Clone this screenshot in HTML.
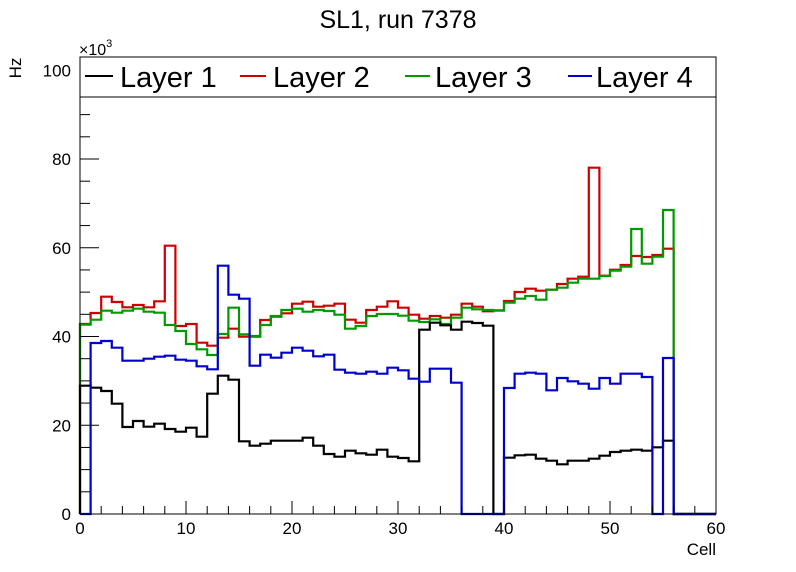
<!DOCTYPE html>
<html><head><style>body{margin:0;background:#fff}svg{display:block}</style></head><body>
<svg width="796" height="572" xmlns="http://www.w3.org/2000/svg" font-family="Liberation Sans, sans-serif">
<rect width="796" height="572" fill="#fff"/>
<text x="398" y="28" font-size="25" text-anchor="middle">SL1, run 7378</text>
<g id="plot" fill="none" stroke-width="2.2"></g>
<rect x="80" y="57" width="636" height="457" fill="none" stroke="#000" stroke-width="1"/>
<g id="ticks" stroke="#000" stroke-width="1"></g>
<g font-size="17" text-anchor="end" id="yl"></g>
<g font-size="17" text-anchor="middle" id="xl"></g>
<text x="716" y="555" font-size="17" text-anchor="end">Cell</text>
<text transform="translate(21,68) rotate(-90)" font-size="17" text-anchor="middle">Hz</text>
<text x="79" y="55" font-size="16">×10<tspan font-size="11" dy="-8">3</tspan></text>
<rect x="80" y="57" width="636" height="40" fill="#fff" stroke="#000" stroke-width="1"/>
<g font-size="29">
<line x1="85" x2="113" y1="76" y2="76" stroke="#000" stroke-width="2"/><text x="120" y="87">Layer 1</text>
<line x1="240" x2="266" y1="76" y2="76" stroke="#c00" stroke-width="2"/><text x="273" y="87">Layer 2</text>
<line x1="405" x2="430" y1="76" y2="76" stroke="#090" stroke-width="2"/><text x="435" y="87">Layer 3</text>
<line x1="568" x2="592" y1="76" y2="76" stroke="#00c" stroke-width="2"/><text x="596" y="87">Layer 4</text>
</g>
<script>
var B=[385.7,387.7,391,403.7,427,421,426.7,423.7,429,431.7,427.7,436.7,393.7,375.7,379.7,441.3,445.7,443.7,440.7,440.7,440.7,437.7,445.7,454,456.7,450.7,453.3,454.7,449.7,456.7,458,461.3,329.7,322.7,325.3,329.7,321.7,323,325.7,514,457.7,455.3,454.7,458.7,460.7,464.3,460.7,460.7,458.7,455.7,452,450.7,449.7,450.7,447.3,440.7,514,514,514,514];
var U=[514,343,341,347.7,360.7,360.7,358.7,356.7,355.7,359.7,360.7,366.3,369.3,265.7,294.7,298.7,365.7,354.7,357.7,352.7,347.7,350.7,356.3,354.7,369.7,372.7,373.7,371.7,373.7,367.7,370.3,378.7,381.7,368.7,368.7,382.7,514,514,514,514,388,373.7,372.7,373.7,390.3,378,381.3,383.7,388.7,378,383.7,373.7,373.7,377,514,358,514,514,514,514];
var R=[324,313,296.7,302,307.3,305,307.3,301.3,245.7,326,324,342.7,345.7,337.7,328.7,336.7,336.7,320,316.7,313.3,303.7,301.7,306.7,305.7,303.7,319.7,322.7,310,306.7,301.3,307.7,314.7,318.7,316,317.7,314.7,303.7,306.7,311.3,310.3,301,292,288.7,290.7,289.7,284,278.7,276.7,167.7,275.7,269.7,265,256,257,255,248.7,514,514,514,514];
var G=[324.7,319.7,310.7,312.7,310.7,308.7,311.7,312.7,325,331,344,349.3,355,334,307.7,334.3,336,325,316,310,308.7,311.7,310,311,314.7,328.7,326,316,314,314,315.7,320.7,322,319.3,324,317.7,307.7,309.3,310,310.7,302.7,298.7,296,299.7,289.7,287.7,282.7,278.7,278.7,276,270.7,266.7,229,263.7,256.7,210,514,514,514,514];
var NS="http://www.w3.org/2000/svg";
function path(d,c){var s="M80,514";for(var i=0;i<60;i++){var x0=80+10.6*i,x1=x0+10.6;s+=" L"+x0.toFixed(1)+","+d[i]+" L"+x1.toFixed(1)+","+d[i];}s+=" L716,514";var p=document.createElementNS(NS,"path");p.setAttribute("d",s);p.setAttribute("stroke",c);document.getElementById("plot").appendChild(p);}
path(R,"#cc0000");path(G,"#009900");path(B,"#000");path(U,"#0000cc");
var t=document.getElementById("ticks"),yl=document.getElementById("yl"),xl=document.getElementById("xl");
function ln(a,b,c,d){var l=document.createElementNS(NS,"line");l.setAttribute("x1",a);l.setAttribute("y1",b);l.setAttribute("x2",c);l.setAttribute("y2",d);t.appendChild(l);}
for(var v=0;v<=100;v+=5){var y=514-v*4.4375;if(y<57)continue;ln(80,y,80+(v%20==0?19:10),y);if(v%20==0){var tx=document.createElementNS(NS,"text");tx.setAttribute("x",71);tx.setAttribute("y",y+6);tx.textContent=v;yl.appendChild(tx);}}
for(var c=0;c<=60;c+=2){var x=80+c*10.6;ln(x,514,x,514-(c%10==0?13:8));if(c%10==0){var tx=document.createElementNS(NS,"text");tx.setAttribute("x",x);tx.setAttribute("y",534);tx.textContent=c;xl.appendChild(tx);}}
</script>
</svg>
</body></html>
